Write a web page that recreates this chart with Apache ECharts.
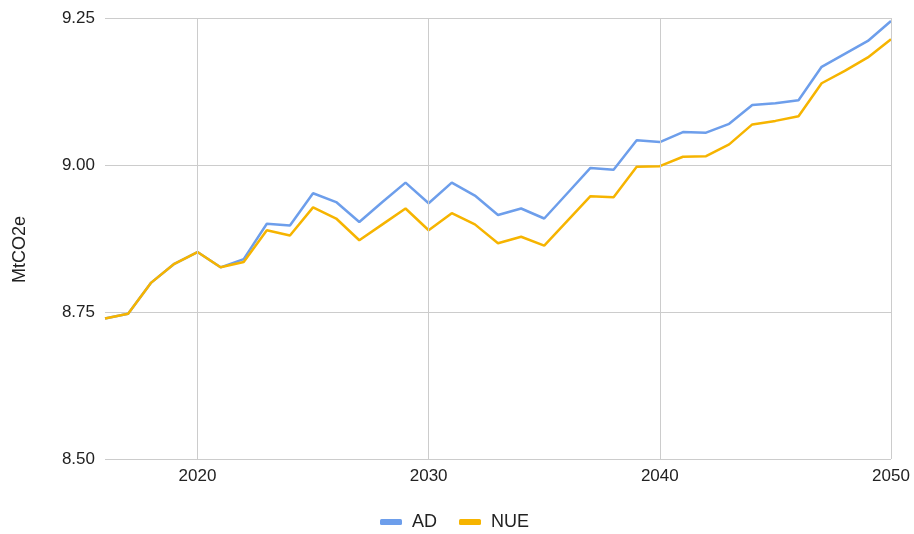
<!DOCTYPE html>
<html>
<head>
<meta charset="utf-8">
<script src="https://cdn.jsdelivr.net/npm/echarts@6/dist/echarts.min.js"></script>
<style>html,body{margin:0;padding:0;background:#fff}#c{width:914px;height:534px}</style>
</head>
<body>
<div id="c"></div>
<script>
var years = [2016,2017,2018,2019,2020,2021,2022,2023,2024,2025,2026,2027,2028,2029,2030,2031,2032,2033,2034,2035,2036,2037,2038,2039,2040,2041,2042,2043,2044,2045,2046,2047,2048,2049,2050];
var adValues = [8.739,8.747,8.800,8.832,8.852,8.826,8.840,8.900,8.897,8.952,8.937,8.903,8.937,8.970,8.935,8.970,8.948,8.915,8.926,8.909,8.952,8.995,8.992,9.042,9.039,9.056,9.055,9.070,9.102,9.105,9.110,9.167,9.189,9.211,9.245];
var nueValues = [8.739,8.747,8.800,8.832,8.852,8.826,8.835,8.889,8.880,8.928,8.909,8.872,8.899,8.926,8.889,8.918,8.899,8.867,8.878,8.863,8.905,8.947,8.945,8.997,8.998,9.014,9.015,9.035,9.069,9.075,9.083,9.139,9.160,9.183,9.214];
var xTicks = [2020, 2030, 2040, 2050];
var yTicks = [8.50, 8.75, 9.00, 9.25];
var seriesNames = ['AD', 'NUE'];
var yAxisTitle = 'MtCO2e';

function pairs(vals){ return years.map(function(y,i){ return [y, vals[i]]; }); }

var chart = echarts.init(document.getElementById('c'));
var font = '"Liberation Sans", Arial, sans-serif';
chart.setOption({
  animation: false,
  textStyle: { fontFamily: font },
  grid: { left: 105, right: 23, top: 18, bottom: 75, containLabel: false },
  graphic: [{
    type: 'text', left: 11, top: 216,
    rotation: Math.PI / 2,
    style: { text: yAxisTitle, fill: '#222', font: '18px "Liberation Sans", Arial, sans-serif' },
    silent: true
  }],
  legend: {
    top: 508, left: 375,
    itemWidth: 22, itemHeight: 6, itemGap: 22,
    icon: 'roundRect',
    textStyle: { fontFamily: font, fontSize: 18, color: '#222', padding: [0, 0, 0, 5] },
    data: seriesNames
  },
  xAxis: {
    type: 'value', min: 2016, max: 2050,
    axisLine: { show: false },
    axisTick: { show: false, customValues: xTicks },
    splitLine: { show: false },
    axisLabel: {
      color: '#222', fontSize: 17, fontFamily: font, margin: 9,
      customValues: xTicks,
      formatter: function(v){ return String(v); }
    }
  },
  yAxis: {
    type: 'value', min: 8.5, max: 9.25, interval: 0.25,
    axisLine: { show: false }, axisTick: { show: false },
    splitLine: { lineStyle: { color: '#cccccc', width: 1 } },
    axisLabel: { color: '#222', fontSize: 17, fontFamily: font, margin: 10,
      customValues: yTicks,
      formatter: function(v){ return v.toFixed(2); } }
  },
  series: [
    { name: seriesNames[0], type: 'line', data: pairs(adValues), showSymbol: false,
      lineStyle: { color: '#6d9eeb', width: 2.5 }, itemStyle: { color: '#6d9eeb' }, z: 3,
      markLine: {
        silent: true, symbol: 'none', label: { show: false }, animation: false,
        lineStyle: { color: '#cccccc', width: 1, type: 'solid' },
        data: xTicks.map(function(v){ return { xAxis: v }; })
      }
    },
    { name: seriesNames[1], type: 'line', data: pairs(nueValues), showSymbol: false,
      lineStyle: { color: '#f6b400', width: 2.5 }, itemStyle: { color: '#f6b400' }, z: 4 }
  ]
});
</script>
</body>
</html>
